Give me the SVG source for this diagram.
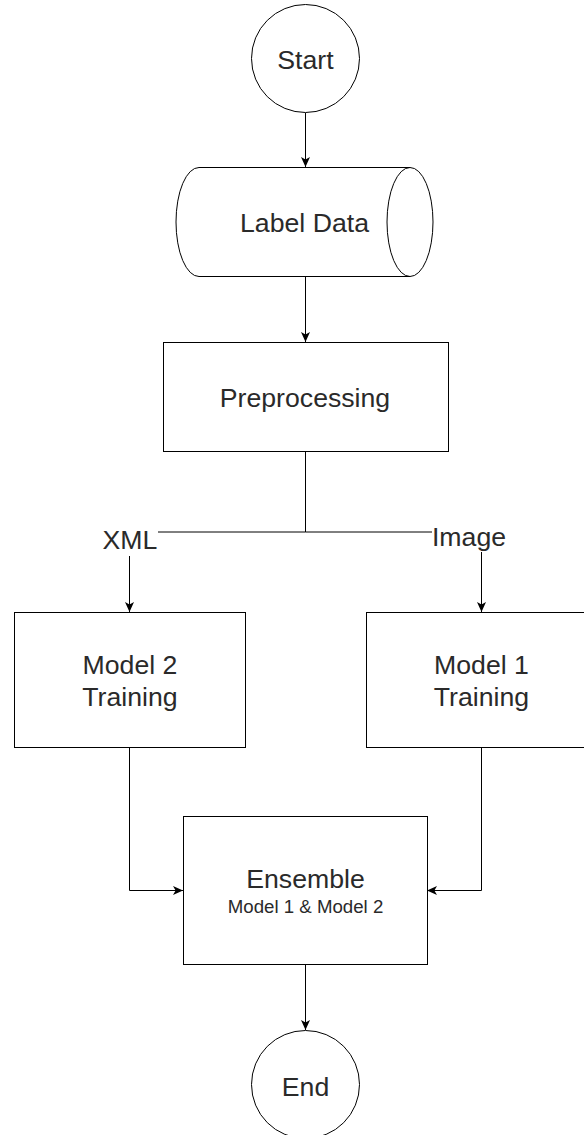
<svg xmlns="http://www.w3.org/2000/svg" width="584" height="1135" viewBox="0 0 584 1135">
  <style>
    .shape { fill: #ffffff; stroke: #000000; stroke-width: 1; }
    .edge { fill: none; stroke: #000000; stroke-width: 1; }
    .lbl { font-family: "Liberation Sans", Arial, Helvetica, sans-serif; font-size: 26.67px; fill: #2a2a2a; text-anchor: middle; }
    .sub { font-family: "Liberation Sans", Arial, Helvetica, sans-serif; font-size: 18.67px; fill: #2a2a2a; text-anchor: middle; }
  </style>
  <defs>
    <marker id="arrow" viewBox="0 0 10 10" refX="10" refY="5" markerWidth="10" markerHeight="10" markerUnits="userSpaceOnUse" orient="auto">
      <path d="M0,0.5 L10,5 L0,9.5 L2.6,5 Z" fill="#000000"/>
    </marker>
  </defs>
  <rect width="584" height="1135" fill="#ffffff"/>

  <g id="connectors">
    <!-- Start -> Label Data -->
    <path class="edge" d="M305.5,113 L305.5,167" marker-end="url(#arrow)"/>
    <!-- Label Data -> Preprocessing -->
    <path class="edge" d="M305.5,276 L305.5,342" marker-end="url(#arrow)"/>
    <!-- Preprocessing -> Model 2 (XML) -->
    <path class="edge" d="M305.5,451 L305.5,532 L129.5,532 L129.5,612" marker-end="url(#arrow)"/>
    <!-- Preprocessing -> Model 1 (Image) -->
    <path class="edge" d="M305.5,532 L481.5,532 L481.5,612" marker-end="url(#arrow)"/>
    <!-- Model 2 -> Ensemble -->
    <path class="edge" d="M129.5,747 L129.5,890.5 L183,890.5" marker-end="url(#arrow)"/>
    <!-- Model 1 -> Ensemble -->
    <path class="edge" d="M481.5,747 L481.5,890.5 L427,890.5" marker-end="url(#arrow)"/>
    <!-- Ensemble -> End -->
    <path class="edge" d="M305.5,964 L305.5,1030" marker-end="url(#arrow)"/>
    <!-- edge labels -->
    <g id="label-xml">
      <rect x="101" y="518" width="57" height="38" fill="#ffffff"/>
      <text class="lbl" x="130" y="549">XML</text>
    </g>
    <g id="label-image">
      <rect x="432" y="516" width="75" height="36" fill="#ffffff"/>
      <text class="lbl" x="469" y="546">Image</text>
    </g>
  </g>

  <g id="start">
    <circle class="shape" cx="305.5" cy="58.5" r="54"/>
    <text class="lbl" x="305.5" y="69">Start</text>
  </g>

  <g id="label-data">
    <path class="shape" d="M199,167.5 L410,167.5 A23,54.5 0 0 1 410,276.5 L199,276.5 A23,54.5 0 0 1 199,167.5 Z"/>
    <path class="edge" d="M410,167.5 A23,54.5 0 0 0 410,276.5"/>
    <text class="lbl" x="304.5" y="232">Label Data</text>
  </g>

  <g id="preprocessing">
    <rect class="shape" x="163.5" y="342.5" width="285" height="109"/>
    <text class="lbl" x="305" y="407">Preprocessing</text>
  </g>

  <g id="model2">
    <rect class="shape" x="14.5" y="612.5" width="231" height="135"/>
    <text class="lbl" x="130" y="674">Model 2</text>
    <text class="lbl" x="130" y="706">Training</text>
  </g>

  <g id="model1">
    <rect class="shape" x="366.5" y="612.5" width="231" height="135"/>
    <text class="lbl" x="481.5" y="674">Model 1</text>
    <text class="lbl" x="481.5" y="706">Training</text>
  </g>

  <g id="ensemble">
    <rect class="shape" x="183.5" y="816.5" width="244" height="148"/>
    <text class="lbl" x="305.5" y="888">Ensemble</text>
    <text class="sub" x="305.5" y="913">Model 1 &amp; Model 2</text>
  </g>

  <g id="end">
    <circle class="shape" cx="305.5" cy="1084.5" r="54"/>
    <text class="lbl" x="305.5" y="1096">End</text>
  </g>
</svg>
